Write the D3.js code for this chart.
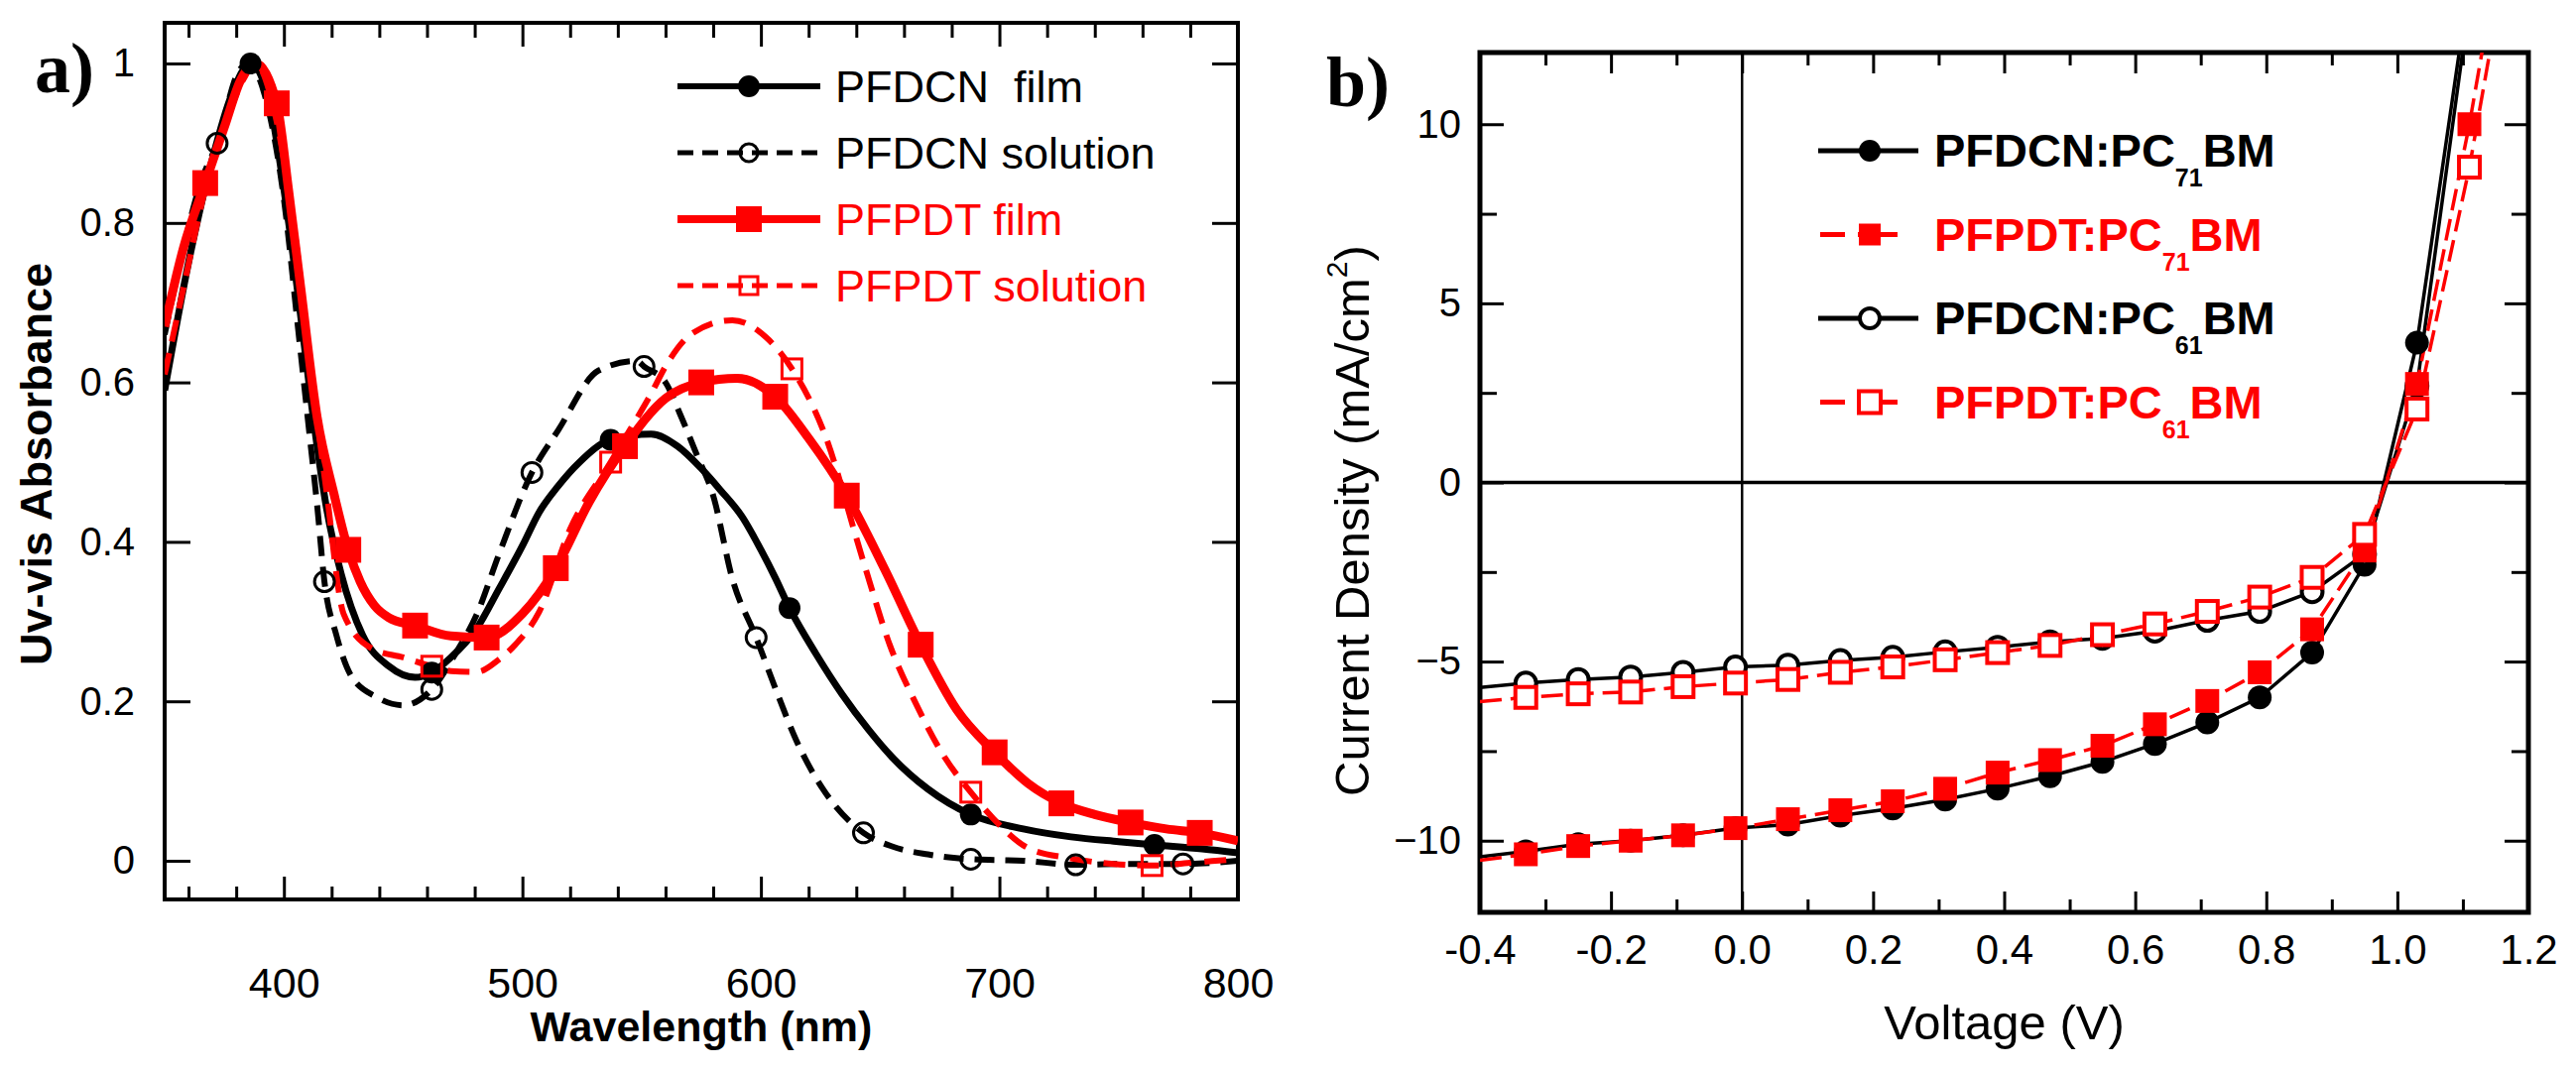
<!DOCTYPE html>
<html>
<head>
<meta charset="utf-8">
<script src="https://cdn.jsdelivr.net/npm/d3@7"></script>
<style>
  html, body { margin: 0; padding: 0; background: #fff; }
  svg { display: block; }
</style>
</head>
<body>
<div id="chart-area"></div>
<script>
'use strict';

// ---------- panel a) : UV-vis absorbance ----------
let pfdcnFilmNm = [350, 360, 370, 378, 386, 394, 402, 408, 413, 418, 424, 433, 444, 455, 462, 470, 481, 490, 500, 507, 515, 524, 537, 554, 565, 575, 583, 592, 600, 606, 612, 623, 634, 645, 655, 670, 688, 710, 730, 750, 765, 785, 800];
let pfdcnFilmAbs = [0.59, 0.75, 0.88, 0.96, 1.0, 0.95, 0.80, 0.66, 0.54, 0.44, 0.36, 0.283, 0.244, 0.230, 0.236, 0.255, 0.292, 0.34, 0.395, 0.437, 0.47, 0.50, 0.528, 0.535, 0.52, 0.492, 0.465, 0.432, 0.39, 0.355, 0.317, 0.26, 0.209, 0.165, 0.13, 0.09, 0.058, 0.04, 0.03, 0.024, 0.02, 0.015, 0.01];
let pfdcnFilmMarks = [386, 462, 537, 612, 688, 765];

let pfdcnSolNm = [350, 358, 365, 372, 381, 385, 392, 400, 406, 410, 414, 417, 422, 428, 439, 450, 462, 472, 481, 490, 504, 515, 532, 548, 551, 560, 566, 573, 580, 588, 598, 607, 615, 626, 637, 643, 655, 670, 688, 710, 732, 755, 777, 800];
let pfdcnSolAbs = [0.66, 0.77, 0.85, 0.90, 0.99, 1.0, 0.96, 0.83, 0.666, 0.555, 0.444, 0.35, 0.283, 0.233, 0.205, 0.195, 0.215, 0.26, 0.31, 0.383, 0.487, 0.54, 0.615, 0.627, 0.62, 0.60, 0.561, 0.51, 0.458, 0.354, 0.28, 0.209, 0.15, 0.09, 0.05, 0.035, 0.018, 0.008, 0.002, 0.0, -0.005, -0.004, -0.004, 0.0];
let pfdcnSolMarks = [372, 417, 462, 504, 551, 598, 643, 688, 732, 777];

let pfpdtFilmNm = [350, 358, 367, 375, 382, 388, 397, 402, 407, 414, 421, 427, 432, 438, 444, 455, 470, 485, 500, 514, 528, 543, 560, 575, 590, 606, 620, 636, 652, 667, 682, 698, 712, 726, 740, 755, 770, 784, 800];
let pfpdtFilmAbs = [0.67, 0.77, 0.85, 0.92, 0.98, 1.0, 0.95, 0.84, 0.72, 0.555, 0.46, 0.39, 0.35, 0.32, 0.305, 0.295, 0.282, 0.28, 0.31, 0.367, 0.45, 0.52, 0.58, 0.60, 0.605, 0.582, 0.53, 0.458, 0.365, 0.271, 0.19, 0.136, 0.097, 0.072, 0.058, 0.048, 0.04, 0.035, 0.025];
let pfpdtFilmMarks = [367, 397, 427, 455, 485, 514, 543, 575, 606, 636, 667, 698, 726, 755, 784];

let pfpdtSolNm = [350, 358, 366, 375, 383, 388, 396, 404, 412, 418, 425, 437, 450, 462, 470, 481, 490, 497, 507, 520, 537, 545, 554, 560, 571, 588, 602, 613, 626, 643, 654, 665, 677, 688, 700, 712, 730, 748, 764, 782, 800];
let pfpdtSolAbs = [0.61, 0.72, 0.83, 0.92, 0.98, 1.0, 0.94, 0.80, 0.60, 0.46, 0.31, 0.266, 0.255, 0.244, 0.238, 0.237, 0.252, 0.271, 0.312, 0.416, 0.50, 0.54, 0.586, 0.62, 0.661, 0.678, 0.657, 0.617, 0.541, 0.375, 0.271, 0.197, 0.13, 0.086, 0.045, 0.016, 0.003, -0.004, -0.006, -0.002, 0.002];
let pfpdtSolMarks = [462, 537, 613, 688, 764];

let legendA = ['PFDCN \u00a0film', 'PFDCN solution', 'PFPDT film', 'PFPDT solution'];
let waveMajorTicks = [400, 500, 600, 700, 800];
let waveMinorTicks = [360, 380, 420, 440, 460, 480, 520, 540, 560, 580, 620, 640, 660, 680, 720, 740, 760, 780];
let absTicks = [0, 0.2, 0.4, 0.6, 0.8, 1];
let absTickLabels = ['0', '0.2', '0.4', '0.6', '0.8', '1'];

// ---------- panel b) : J-V curves ----------
let jvVolts = [-0.33, -0.25, -0.17, -0.09, -0.01, 0.07, 0.15, 0.23, 0.31, 0.39, 0.47, 0.55, 0.63, 0.71, 0.79, 0.87, 0.95, 1.03, 1.11];
let pfdcn71J = [-10.3, -10.1, -10.0, -9.85, -9.65, -9.55, -9.3, -9.1, -8.85, -8.55, -8.2, -7.8, -7.3, -6.7, -6.0, -4.75, -2.3, 3.9];
let pfpdt71J = [-10.38, -10.15, -10.0, -9.85, -9.65, -9.4, -9.15, -8.9, -8.55, -8.1, -7.75, -7.35, -6.75, -6.1, -5.3, -4.1, -1.9, 2.75, 10.0];
let pfdcn61J = [-5.6, -5.5, -5.43, -5.3, -5.15, -5.1, -4.97, -4.88, -4.73, -4.6, -4.45, -4.35, -4.15, -3.85, -3.6, -3.05, -2.0, 2.7];
let pfpdt61J = [-6.0, -5.9, -5.85, -5.7, -5.6, -5.5, -5.3, -5.15, -4.95, -4.75, -4.55, -4.25, -3.95, -3.6, -3.2, -2.65, -1.45, 2.05, 8.8];
// where each line meets the left frame (V = -0.4) and where it leaves the top (J = 12)
let jvStartJ = [-10.45, -10.55, -5.72, -6.12];
let jvExitV = [1.096, 1.131, 1.101, 1.143];
let legendB = [['PFDCN:PC', '71', 'BM'], ['PFPDT:PC', '71', 'BM'], ['PFDCN:PC', '61', 'BM'], ['PFPDT:PC', '61', 'BM']];
let voltMajorTicks = [-0.4, -0.2, 0.0, 0.2, 0.4, 0.6, 0.8, 1.0, 1.2];
let voltTickLabels = ['-0.4', '-0.2', '0.0', '0.2', '0.4', '0.6', '0.8', '1.0', '1.2'];
let voltMinorTicks = [-0.3, -0.1, 0.1, 0.3, 0.5, 0.7, 0.9, 1.1];
let currMajorTicks = [-10, -5, 0, 5, 10];
let currMinorTicks = [-7.5, -2.5, 2.5, 7.5];

const RED = '#ff0000';
const SANS = "'Liberation Sans', Arial, sans-serif";

let svg = d3.select('#chart-area').append('svg')
    .attr('width', 2597)
    .attr('height', 1080)
    .style('font-family', SANS);

svg.append('rect').attr('width', 2597).attr('height', 1080).attr('fill', '#fff');

let defs = svg.append('defs');

function styleAxis(sel, width, size) {
    sel.select('.domain').remove();
    sel.selectAll('line').attr('stroke', '#000').attr('stroke-width', width);
    sel.selectAll('text').attr('fill', '#000').attr('font-size', size).attr('font-family', SANS);
}

function drawMarker(sel, kind, x, y, color, s) {
    if (kind === 'filledCircle') {
        sel.append('circle').attr('cx', x).attr('cy', y).attr('r', s).attr('fill', color);
    } else if (kind === 'openCircle') {
        sel.append('circle').attr('cx', x).attr('cy', y).attr('r', s)
            .attr('fill', 'none').attr('stroke', color).attr('stroke-width', 3);
    } else if (kind === 'filledSquare') {
        sel.append('rect').attr('x', x - s).attr('y', y - s).attr('width', 2 * s).attr('height', 2 * s)
            .attr('fill', color);
    } else if (kind === 'openSquare') {
        sel.append('rect').attr('x', x - s).attr('y', y - s).attr('width', 2 * s).attr('height', 2 * s)
            .attr('fill', 'none').attr('stroke', color).attr('stroke-width', 3);
    } else if (kind === 'whiteCircle') {
        sel.append('circle').attr('cx', x).attr('cy', y).attr('r', s)
            .attr('fill', '#fff').attr('stroke', color).attr('stroke-width', 4);
    } else if (kind === 'whiteSquare') {
        sel.append('rect').attr('x', x - s).attr('y', y - s).attr('width', 2 * s).attr('height', 2 * s)
            .attr('fill', '#fff').attr('stroke', color).attr('stroke-width', 4);
    }
}

/* ================= panel a ================= */
let ax = { l: 166, r: 1248, t: 23, b: 907 };
let xA = d3.scaleLinear().domain([350, 800]).range([ax.l, ax.r]);
let yA = d3.scaleLinear().domain([-0.0485, 1.051]).range([ax.b, ax.t]);

defs.append('clipPath').attr('id', 'clipA')
    .append('rect').attr('x', ax.l).attr('y', ax.t)
    .attr('width', ax.r - ax.l).attr('height', ax.b - ax.t);

let ga = svg.append('g');

// ticks point inward on all four sides
ga.append('g').attr('transform', 'translate(0,' + ax.b + ')')
    .call(d3.axisBottom(xA).tickValues(waveMinorTicks).tickSize(-13).tickFormat(''))
    .call(styleAxis, 3, 0);
ga.append('g').attr('transform', 'translate(0,' + ax.b + ')')
    .call(d3.axisBottom(xA).tickValues(waveMajorTicks).tickSize(-23).tickPadding(68).tickFormat(d3.format('d')))
    .call(styleAxis, 3, 43);
ga.append('g').attr('transform', 'translate(0,' + ax.t + ')')
    .call(d3.axisTop(xA).tickValues(waveMinorTicks).tickSize(-15).tickFormat(''))
    .call(styleAxis, 3, 0);
ga.append('g').attr('transform', 'translate(0,' + ax.t + ')')
    .call(d3.axisTop(xA).tickValues(waveMajorTicks).tickSize(-24).tickFormat(''))
    .call(styleAxis, 3, 0);
ga.append('g').attr('transform', 'translate(' + ax.l + ',0)')
    .call(d3.axisLeft(yA).tickValues(absTicks).tickSize(-26).tickPadding(30)
        .tickFormat((d, i) => absTickLabels[i]))
    .call(styleAxis, 3, 40);
ga.append('g').attr('transform', 'translate(' + ax.r + ',0)')
    .call(d3.axisRight(yA).tickValues(absTicks).tickSize(-26).tickFormat(''))
    .call(styleAxis, 3, 0);

ga.append('rect')
    .attr('x', ax.l).attr('y', ax.t)
    .attr('width', ax.r - ax.l).attr('height', ax.b - ax.t)
    .attr('fill', 'none').attr('stroke', '#000').attr('stroke-width', 4);

ga.append('text')
    .attr('x', (ax.l + ax.r) / 2).attr('y', 1050)
    .attr('text-anchor', 'middle')
    .attr('font-size', 43).attr('font-weight', 'bold')
    .text('Wavelength (nm)');

ga.append('text')
    .attr('transform', 'translate(52,' + ((ax.t + ax.b) / 2 + 3) + ') rotate(-90)')
    .attr('text-anchor', 'middle')
    .attr('font-size', 45).attr('font-weight', 'bold')
    .text('Uv-vis Absorbance');

ga.append('text')
    .attr('x', 35).attr('y', 93)
    .attr('font-family', "'Liberation Serif', 'Times New Roman', serif")
    .attr('font-size', 72).attr('font-weight', 'bold')
    .text('a)');

let seriesA = [
    { nm: pfdcnSolNm, abs: pfdcnSolAbs, marks: pfdcnSolMarks, color: '#000', width: 6, dash: '20,11', marker: 'openCircle' },
    { nm: pfdcnFilmNm, abs: pfdcnFilmAbs, marks: pfdcnFilmMarks, color: '#000', width: 7, dash: null, marker: 'filledCircle' },
    { nm: pfpdtSolNm, abs: pfpdtSolAbs, marks: pfpdtSolMarks, color: RED, width: 6, dash: '22,12', marker: 'openSquare' },
    { nm: pfpdtFilmNm, abs: pfpdtFilmAbs, marks: pfpdtFilmMarks, color: RED, width: 9, dash: null, marker: 'filledSquare' },
];
let markerSizeA = { filledCircle: 11, openCircle: 10, filledSquare: 13, openSquare: 10 };

let plotA = ga.append('g').attr('clip-path', 'url(#clipA)');
let lineA = d3.line()
    .x(d => xA(d[0]))
    .y(d => yA(d[1]))
    .curve(d3.curveMonotoneX);

seriesA.forEach(s => {
    let pts = s.nm.map((n, i) => [n, s.abs[i]]);
    plotA.append('path')
        .attr('d', lineA(pts))
        .attr('fill', 'none')
        .attr('stroke', s.color)
        .attr('stroke-width', s.width)
        .attr('stroke-dasharray', s.dash)
        .attr('stroke-linejoin', 'round');
});
seriesA.forEach(s => {
    let mg = plotA.append('g');
    s.marks.forEach(m => {
        let i = s.nm.indexOf(m);
        drawMarker(mg, s.marker, xA(m), yA(s.abs[i]), s.color, markerSizeA[s.marker]);
    });
});

// legend a
let legA = ga.append('g');
let legAStyle = [seriesA[1], seriesA[0], seriesA[3], seriesA[2]];
legendA.forEach((label, i) => {
    let s = legAStyle[i];
    let cy = 87 + i * 67;
    legA.append('line')
        .attr('x1', 683).attr('x2', 827).attr('y1', cy).attr('y2', cy)
        .attr('stroke', s.color).attr('stroke-width', s.width - 1)
        .attr('stroke-dasharray', s.dash ? '16,9' : null);
    drawMarker(legA, s.marker, 755, cy, s.color, s.marker === 'filledSquare' ? 13 : (s.marker === 'filledCircle' ? 11 : 9));
    legA.append('text')
        .attr('x', 842).attr('y', cy + 16)
        .attr('font-size', 45)
        .attr('fill', s.color)
        .text(label);
});

/* ================= panel b ================= */
let bx = { l: 1492, r: 2549, t: 53, b: 920 };
let xB = d3.scaleLinear().domain([-0.4, 1.2]).range([bx.l, bx.r]);
let yB = d3.scaleLinear().domain([-12, 12]).range([bx.b, bx.t]);

defs.append('clipPath').attr('id', 'clipB')
    .append('rect').attr('x', bx.l).attr('y', bx.t)
    .attr('width', bx.r - bx.l).attr('height', bx.b - bx.t);

let gb = svg.append('g');

gb.append('g').attr('transform', 'translate(0,' + bx.b + ')')
    .call(d3.axisBottom(xB).tickValues(voltMinorTicks).tickSize(-13).tickFormat(''))
    .call(styleAxis, 3, 0);
gb.append('g').attr('transform', 'translate(0,' + bx.b + ')')
    .call(d3.axisBottom(xB).tickValues(voltMajorTicks).tickSize(-21).tickPadding(22)
        .tickFormat((d, i) => voltTickLabels[i]))
    .call(styleAxis, 3, 42);
gb.append('g').attr('transform', 'translate(0,' + bx.t + ')')
    .call(d3.axisTop(xB).tickValues(voltMinorTicks).tickSize(-13).tickFormat(''))
    .call(styleAxis, 3, 0);
gb.append('g').attr('transform', 'translate(0,' + bx.t + ')')
    .call(d3.axisTop(xB).tickValues(voltMajorTicks).tickSize(-21).tickFormat(''))
    .call(styleAxis, 3, 0);
gb.append('g').attr('transform', 'translate(' + bx.l + ',0)')
    .call(d3.axisLeft(yB).tickValues(currMajorTicks).tickSize(-24).tickPadding(19).tickFormat(d3.format('d')))
    .call(styleAxis, 3, 40);
gb.append('g').attr('transform', 'translate(' + bx.l + ',0)')
    .call(d3.axisLeft(yB).tickValues(currMinorTicks).tickSize(-17).tickFormat(''))
    .call(styleAxis, 3, 0);
gb.append('g').attr('transform', 'translate(' + bx.r + ',0)')
    .call(d3.axisRight(yB).tickValues(currMajorTicks).tickSize(-24).tickFormat(''))
    .call(styleAxis, 3, 0);
gb.append('g').attr('transform', 'translate(' + bx.r + ',0)')
    .call(d3.axisRight(yB).tickValues(currMinorTicks).tickSize(-17).tickFormat(''))
    .call(styleAxis, 3, 0);

// zero lines
gb.append('line')
    .attr('x1', bx.l).attr('x2', bx.r).attr('y1', yB(0)).attr('y2', yB(0))
    .attr('stroke', '#000').attr('stroke-width', 3.5);
gb.append('line')
    .attr('x1', xB(0)).attr('x2', xB(0)).attr('y1', bx.t).attr('y2', bx.b)
    .attr('stroke', '#000').attr('stroke-width', 2.5);

gb.append('rect')
    .attr('x', bx.l).attr('y', bx.t)
    .attr('width', bx.r - bx.l).attr('height', bx.b - bx.t)
    .attr('fill', 'none').attr('stroke', '#000').attr('stroke-width', 5);

gb.append('text')
    .attr('x', (bx.l + bx.r) / 2).attr('y', 1048)
    .attr('text-anchor', 'middle')
    .attr('font-size', 49)
    .text('Voltage (V)');

let yTitle = gb.append('text')
    .attr('transform', 'translate(1380,525) rotate(-90)')
    .attr('text-anchor', 'middle')
    .attr('font-size', 49);
yTitle.append('tspan').text('Current Density (mA/cm');
yTitle.append('tspan').attr('font-size', 30).attr('dy', -22).text('2');
yTitle.append('tspan').attr('dy', 22).text(')');

gb.append('text')
    .attr('x', 1337).attr('y', 107)
    .attr('font-family', "'Liberation Serif', 'Times New Roman', serif")
    .attr('font-size', 72).attr('font-weight', 'bold')
    .text('b)');

let seriesB = [
    { j: pfdcn71J, color: '#000', dash: null, marker: 'filledCircle', size: 12 },
    { j: pfdcn61J, color: '#000', dash: null, marker: 'whiteCircle', size: 10.5 },
    { j: pfpdt71J, color: RED, dash: '22,9', marker: 'filledSquare', size: 12 },
    { j: pfpdt61J, color: RED, dash: '22,9', marker: 'whiteSquare', size: 10.5 },
];
// legend / start / exit order: PFDCN71, PFPDT71, PFDCN61, PFPDT61
let orderB = [0, 2, 1, 3];

let plotB = gb.append('g').attr('clip-path', 'url(#clipB)');
let lineB = d3.line().x(d => xB(d[0])).y(d => yB(d[1]));

seriesB.forEach((s, k) => {
    let idx = orderB.indexOf(k);
    let pts = [[-0.4, jvStartJ[idx]]]
        .concat(s.j.map((v, i) => [jvVolts[i], v]))
        .concat([[jvExitV[idx], 12.2]]);
    plotB.append('path')
        .attr('d', lineB(pts))
        .attr('fill', 'none')
        .attr('stroke', s.color)
        .attr('stroke-width', 3.5)
        .attr('stroke-dasharray', s.dash);
});
seriesB.forEach(s => {
    let mg = plotB.append('g');
    s.j.forEach((v, i) => drawMarker(mg, s.marker, xB(jvVolts[i]), yB(v), s.color, s.size));
});

// legend b
let legB = gb.append('g');
legendB.forEach((parts, i) => {
    let s = seriesB[orderB[i]];
    let cy = 152 + i * 84.5;
    if (s.dash) {
        legB.append('line')
            .attr('x1', 1835).attr('x2', 1913).attr('y1', cy).attr('y2', cy)
            .attr('stroke', s.color).attr('stroke-width', 5)
            .attr('stroke-dasharray', '25,13,40');
    } else {
        legB.append('line')
            .attr('x1', 1833).attr('x2', 1934).attr('y1', cy).attr('y2', cy)
            .attr('stroke', s.color).attr('stroke-width', 5);
    }
    drawMarker(legB, s.marker, 1885, cy, s.color, s.marker === 'whiteCircle' ? 10 : 11);
    let t = legB.append('text')
        .attr('x', 1950).attr('y', cy + 16)
        .attr('font-size', 47).attr('font-weight', 'bold')
        .attr('fill', s.color);
    t.append('tspan').text(parts[0]);
    t.append('tspan').attr('font-size', 25).attr('dy', 20).text(parts[1]);
    t.append('tspan').attr('dy', -20).text(parts[2]);
});
</script>
</body>
</html>
